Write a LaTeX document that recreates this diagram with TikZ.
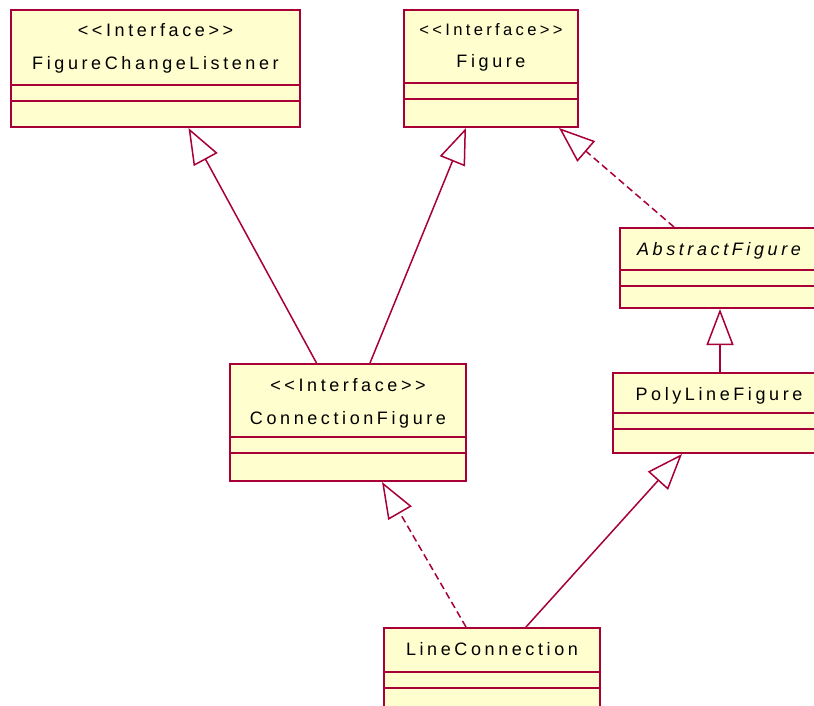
\documentclass[tikz,border=0pt]{standalone}
\usepackage{fontspec}
\setmainfont{Liberation Sans}
\newfontfamily\umlfont[LetterSpace=20]{Liberation Sans}
\usepackage{tikz}
\usetikzlibrary{arrows.meta,calc,positioning}
\definecolor{umlred}{RGB}{168,0,54}
\definecolor{umlfill}{RGB}{254,254,206}

\tikzset{
  classbox/.style={draw=umlred,fill=umlfill,line width=2pt,anchor=north west,inner sep=0pt},
  divider/.style={draw=umlred,line width=1.5pt},
  cname/.style={anchor=base,inner sep=0pt,font=\umlfont\fontsize{18}{20}\selectfont},
  stereo/.style={cname},
  extends/.style={draw=umlred,line width=1.5pt,-{Triangle[length=36pt,width=27pt,fill=white]}},
  implements/.style={extends,dash pattern=on 7pt off 4pt}
}

\begin{document}
\begin{tikzpicture}[x=1pt,y=-1pt]
  \useasboundingbox (0,0) rectangle (814,706);
  \clip (0,0) rectangle (814,706);

  % class boxes
  \node[classbox,minimum width=289pt,minimum height=117pt] (fcl) at (10,9) {};
  \node[classbox,minimum width=174pt,minimum height=117pt] (fig) at (403,9) {};
  \node[classbox,minimum width=200pt,minimum height=80pt] (af) at (619,227) {};
  \node[classbox,minimum width=214pt,minimum height=80pt] (plf) at (612,372) {};
  \node[classbox,minimum width=236pt,minimum height=117pt] (cf) at (229,363) {};
  \node[classbox,minimum width=216pt,minimum height=85pt] (lc) at (383,627) {};

  % compartments
  \foreach \n/\h in {fcl/76,fig/74,cf/74,af/43,plf/41,lc/45} {
    \draw[divider] ($(\n.north west)+(0,\h)$) -- ($(\n.north east)+(0,\h)$);
    \draw[divider] ($(\n.north west)+(0,\h+16)$) -- ($(\n.north east)+(0,\h+16)$);
  }

  % texts
  \node[stereo] (fcl-st) at ($(fcl.north)+(0,28)$) {<<Interface>>};
  \node[cname] (fcl-nm) at ($(fcl.north)+(0,61)$) {FigureChangeListener};
  \node[stereo,font=\umlfont\fontsize{16.6}{19}\selectfont] (fig-st) at ($(fig.north)+(0,27)$) {<<Interface>>};
  \node[cname] (fig-nm) at ($(fig.north)+(0,59)$) {Figure};
  \node[cname,font=\umlfont\itshape\fontsize{18}{20}\selectfont] (af-nm) at ($(af.north)+(-1,28)$) {AbstractFigure};
  \node[cname] (plf-nm) at ($(plf.north)+(-1,28)$) {PolyLineFigure};
  \node[stereo] (cf-st) at ($(cf.north)+(0,28)$) {<<Interface>>};
  \node[cname] (cf-nm) at ($(cf.north)+(0,61)$) {ConnectionFigure};
  \node[cname] (lc-nm) at ($(lc.north)+(0,28)$) {LineConnection};

  % relations
  \draw[extends] ([xshift=-31.5pt]cf.north) -- ([xshift=33pt]fcl.south);
  \draw[extends] ([xshift=22pt]cf.north) -- ([xshift=-25pt]fig.south);
  \draw[implements] ([xshift=-46pt]af.north) -- ([xshift=68pt]fig.south);
  \draw[extends] (plf.north) -- (af.south);
  \draw[implements] ([xshift=-26pt]lc.north) -- ([xshift=34pt]cf.south);
  \draw[extends] ([xshift=34pt]lc.north) -- ([xshift=-38pt]plf.south);
\end{tikzpicture}
\end{document}
